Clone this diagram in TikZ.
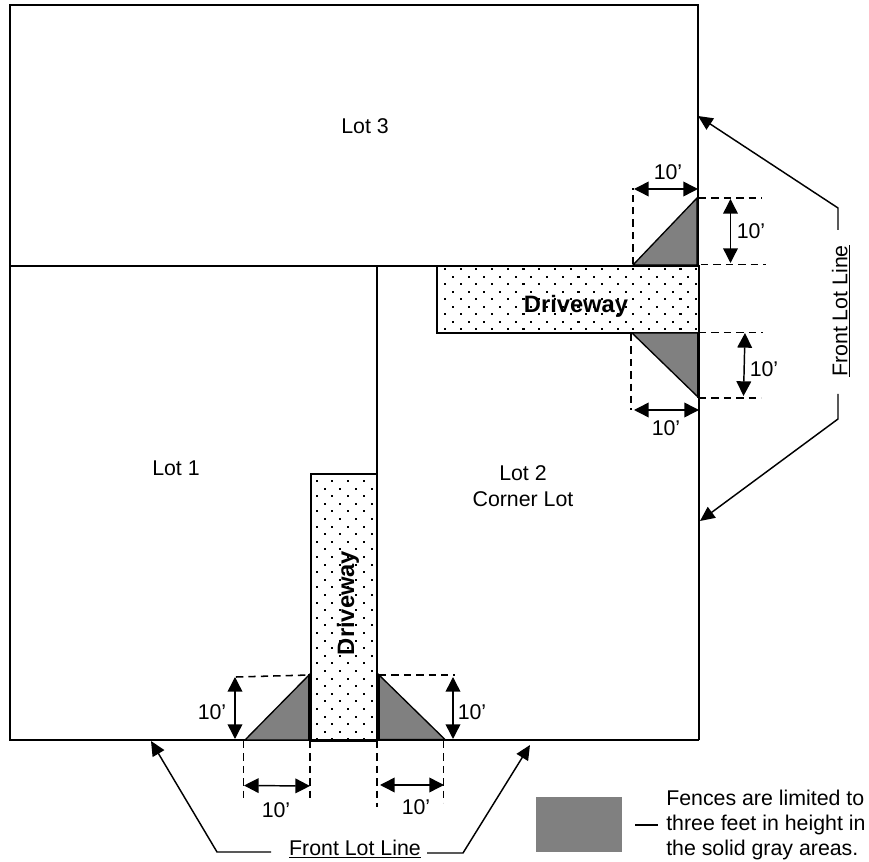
\documentclass[tikz,border=0pt]{standalone}
\usepackage{fontspec}
\setmainfont{Liberation Sans}
\usetikzlibrary{arrows.meta}
\definecolor{fencegray}{HTML}{808080}
\tikzset{
  lotline/.style={draw=black,line width=1.3pt},
  drive/.style={draw=black,line width=1.3pt,fill=white},
  fence/.style={fill=fencegray,draw=black,line width=1pt,line join=miter},
  heavy/.style={line width=2.4pt,draw=black},
  guide/.style={draw=black,line width=1.15pt,dash pattern=on 5.5pt off 3.8pt},
  dim/.style={draw=black,line width=1.1pt,{Triangle[length=11pt,width=11pt]}-{Triangle[length=11pt,width=11pt]}},
  leader/.style={draw=black,line width=1.1pt,-{Triangle[length=11pt,width=10pt]}},
  lbl/.style={font=\fontsize{16}{19}\selectfont,inner sep=0pt,align=center},
  dlbl/.style={font=\fontsize{17.8}{20}\selectfont\bfseries,inner sep=0pt},
}
\begin{document}
\begin{tikzpicture}[x=0.75pt,y=-0.75pt]
\useasboundingbox (0,0) rectangle (869,862);
\fill[white] (0,0) rectangle (869,862);
% corner coordinates
\coordinate (tl) at (10,5);
\coordinate (tr) at (698,5);
\coordinate (ml) at (10,266);
\coordinate (mr) at (698,266);
\coordinate (bl) at (10,740);
\coordinate (br) at (699,740);
\coordinate (mid) at (377,266);
\coordinate (midb) at (377,740);
% driveways
\path[drive] (437,266) rectangle (699.5,333);
\path[drive] (311,474) rectangle (377,741);
\begin{scope}
\clip (438,267) rectangle (699,332);
\foreach \r in {0,...,9}{\foreach \c in {-1,...,17}{
  \pgfmathsetmacro{\xx}{445+\c*15.7}
  \pgfmathsetmacro{\yy}{269.3+\r*7.5}
  \pgfmathsetmacro{\off}{mod(\r,2)*7.85}
  \fill[black] (\xx+\off-1.05,\yy-1.05) rectangle ++(2.1,2.1);
}}
\end{scope}
\begin{scope}
\clip (312,475) rectangle (376,740);
\foreach \r in {0,...,35}{\foreach \c in {-1,...,4}{
  \pgfmathsetmacro{\xx}{316.7+\c*15.7}
  \pgfmathsetmacro{\yy}{481+\r*7.6}
  \pgfmathsetmacro{\off}{mod(\r,2)*7.85}
  \fill[black] (\xx+\off-1.05,\yy-1.05) rectangle ++(2.1,2.1);
}}
\end{scope}
% lot lines
\draw[lotline] (br) -- (bl) -- (tl) -- (tr) -- (mr);
\draw[lotline] (ml) -- (mr);
\draw[lotline] (mid) -- (midb);
\draw[lotline] (699,266) -- (br);
% fence triangles
\path[fence] (633,265) -- (697,198) -- (697,265) -- cycle;
\path[fence] (632,333) -- (699,398) -- (699,333) -- cycle;
\path[fence] (245,740) -- (310,674) -- (310,740) -- cycle;
\path[fence] (378,674) -- (445,739.5) -- (378,739.5) -- cycle;
\draw[heavy] (698.5,333) -- (698.5,398);
\draw[heavy] (310,674) -- (310,740);
\draw[heavy] (378,674) -- (378,740);
% dashed guides, upper driveway
\draw[guide] (633,264) -- (633,188);
\draw[guide] (699,198) -- (762,198);
\draw[guide] (701,264.5) -- (766,264.5);
\draw[guide] (699,332.5) -- (763,332.5);
\draw[guide] (699,398) -- (761,398);
\draw[guide] (631,334) -- (631,410);
% dashed guides, lower driveway
\draw[guide] (236,677) -- (310,675);
\draw[guide] (379,675) -- (455,675);
\draw[guide] (243.5,741) -- (243.5,802);
\draw[guide] (310,741) -- (310,802);
\draw[guide] (377,741) -- (377,807);
\draw[guide] (443.5,741) -- (443.5,803);
% dimension arrows
\coordinate (d1a) at (634,189); \coordinate (d1b) at (698,189);
\coordinate (d2a) at (730.5,199); \coordinate (d2b) at (730.5,263);
\coordinate (d3a) at (745,333); \coordinate (d3b) at (743.5,396);
\coordinate (d4a) at (634,410); \coordinate (d4b) at (699,410);
\coordinate (d5a) at (235,677); \coordinate (d5b) at (235,739);
\coordinate (d6a) at (453,677); \coordinate (d6b) at (453,739);
\coordinate (d7a) at (244,785.5); \coordinate (d7b) at (310,786);
\coordinate (d8a) at (380,785); \coordinate (d8b) at (444,785);
\foreach \n in {1,...,8}{\draw[dim] (d\n a) -- (d\n b);}
% labels 10'
\node[lbl] (t1) at (668,172) {10’};
\node[lbl] (t2) at (751,231) {10’};
\node[lbl] (t3) at (764,369) {10’};
\node[lbl] (t4) at (666,428) {10’};
\node[lbl] (t5) at (212,712) {10’};
\node[lbl] (t6) at (472,712) {10’};
\node[lbl] (t7) at (276,810) {10’};
\node[lbl] (t8) at (416,807) {10’};
% lot names
\node[lbl] (lot3) at (365,126) {Lot 3};
\node[lbl] (lot1) at (176,468) {Lot 1};
\node[lbl] (lot2) at (523,486) {Lot 2\\Corner Lot};
\node[dlbl] (dw1) at (576,306) {Driveway};
\node[dlbl,rotate=90] (dw2) at (348,603) {Driveway};
% front lot line right
\node[lbl,rotate=90] (flr) at (841,311) {\underline{Front Lot Line}};
\coordinate (ra) at (698,116);
\coordinate (rb) at (700,521);
\draw[leader] (838,230) -- (838,208) -- (ra);
\draw[leader] (838,394) -- (838,419) -- (rb);
% front lot line bottom
\node[lbl] (flb) at (355,849) {\underline{Front Lot Line}};
\coordinate (ba) at (151,741);
\coordinate (bb) at (530,745);
\draw[leader] (271,852) -- (217,852) -- (ba);
\draw[leader] (427,853) -- (463,853) -- (bb);
% legend
\fill[fencegray] (536,797) rectangle (622,852);
\node[lbl,align=left,anchor=west] (legend) at (666,825) {Fences are limited to\\three feet in height in\\the solid gray areas.};
\coordinate (lega) at (635,825);
\draw[draw=black,line width=1.1pt] (lega) -- (658,825);
\end{tikzpicture}
\end{document}
